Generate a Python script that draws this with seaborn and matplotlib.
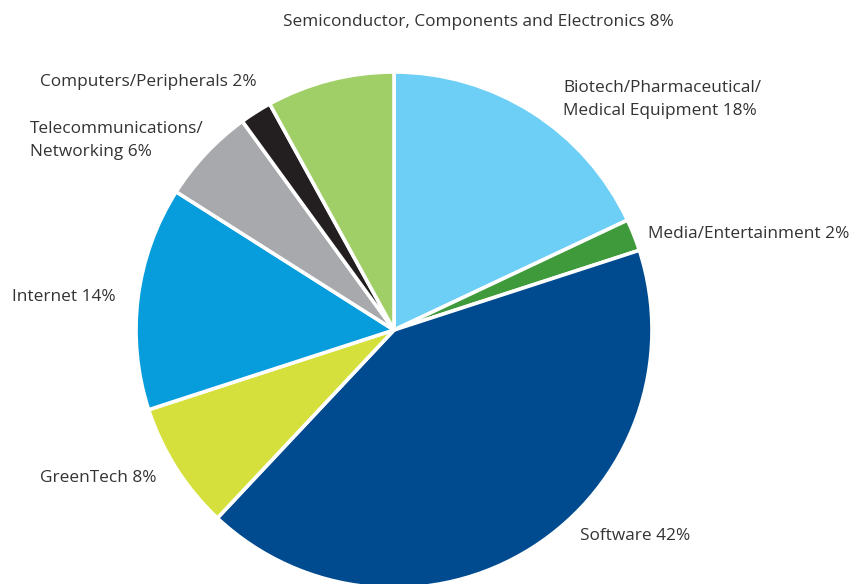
import matplotlib
matplotlib.use('Agg')
import matplotlib.pyplot as plt
import seaborn as sns

# ── Data ──────────────────────────────────────────────────────────────────────
sectors = ['Biotech/Pharmaceutical/\nMedical Equipment', 'Media/Entertainment',
           'Software', 'GreenTech', 'Internet', 'Telecommunications/\nNetworking',
           'Computers/Peripherals', 'Semiconductor, Components and Electronics']
shares = [18, 2, 42, 8, 14, 6, 2, 8]
colors = ['#6DCFF6', '#3F9A3B', '#004A8F', '#D6E03D', '#079DDC', '#A7A9AC',
          '#231F20', '#A0CF67']

# label anchor (pixel x, pixel y from top) and alignment
label_pos = [(563, 99.5, 'left'), (648, 234, 'left'), (580, 536, 'left'),
             (40, 478, 'left'), (12, 297, 'left'), (30, 140.5, 'left'),
             (40, 82, 'left'), (478, 22, 'center')]

sns.set_style('white')
plt.rcParams['font.family'] = ['Open Sans', 'DejaVu Sans']

W, H = 864, 584
cx, cy, r = 394, 330, 258

fig = plt.figure(figsize=(W / 100, H / 100), dpi=100)
ax = fig.add_axes([0, 0, 1, 1])
ax.pie(shares, colors=colors, startangle=90, counterclock=False,
       wedgeprops=dict(edgecolor='white', linewidth=2.6))
ax.set_xlim(-cx / r, (W - cx) / r)
ax.set_ylim(-(H - cy) / r, cy / r)
ax.set_aspect('auto')
ax.axis('off')

for name, val, (px, py, ha) in zip(sectors, shares, label_pos):
    fig.text(px / W, 1 - py / H, f'{name} {val}%', ha=ha, va='center',
             fontsize=12.4, color='#333333', linespacing=1.62)

plt.savefig('out.png', dpi=100)
plt.close()
